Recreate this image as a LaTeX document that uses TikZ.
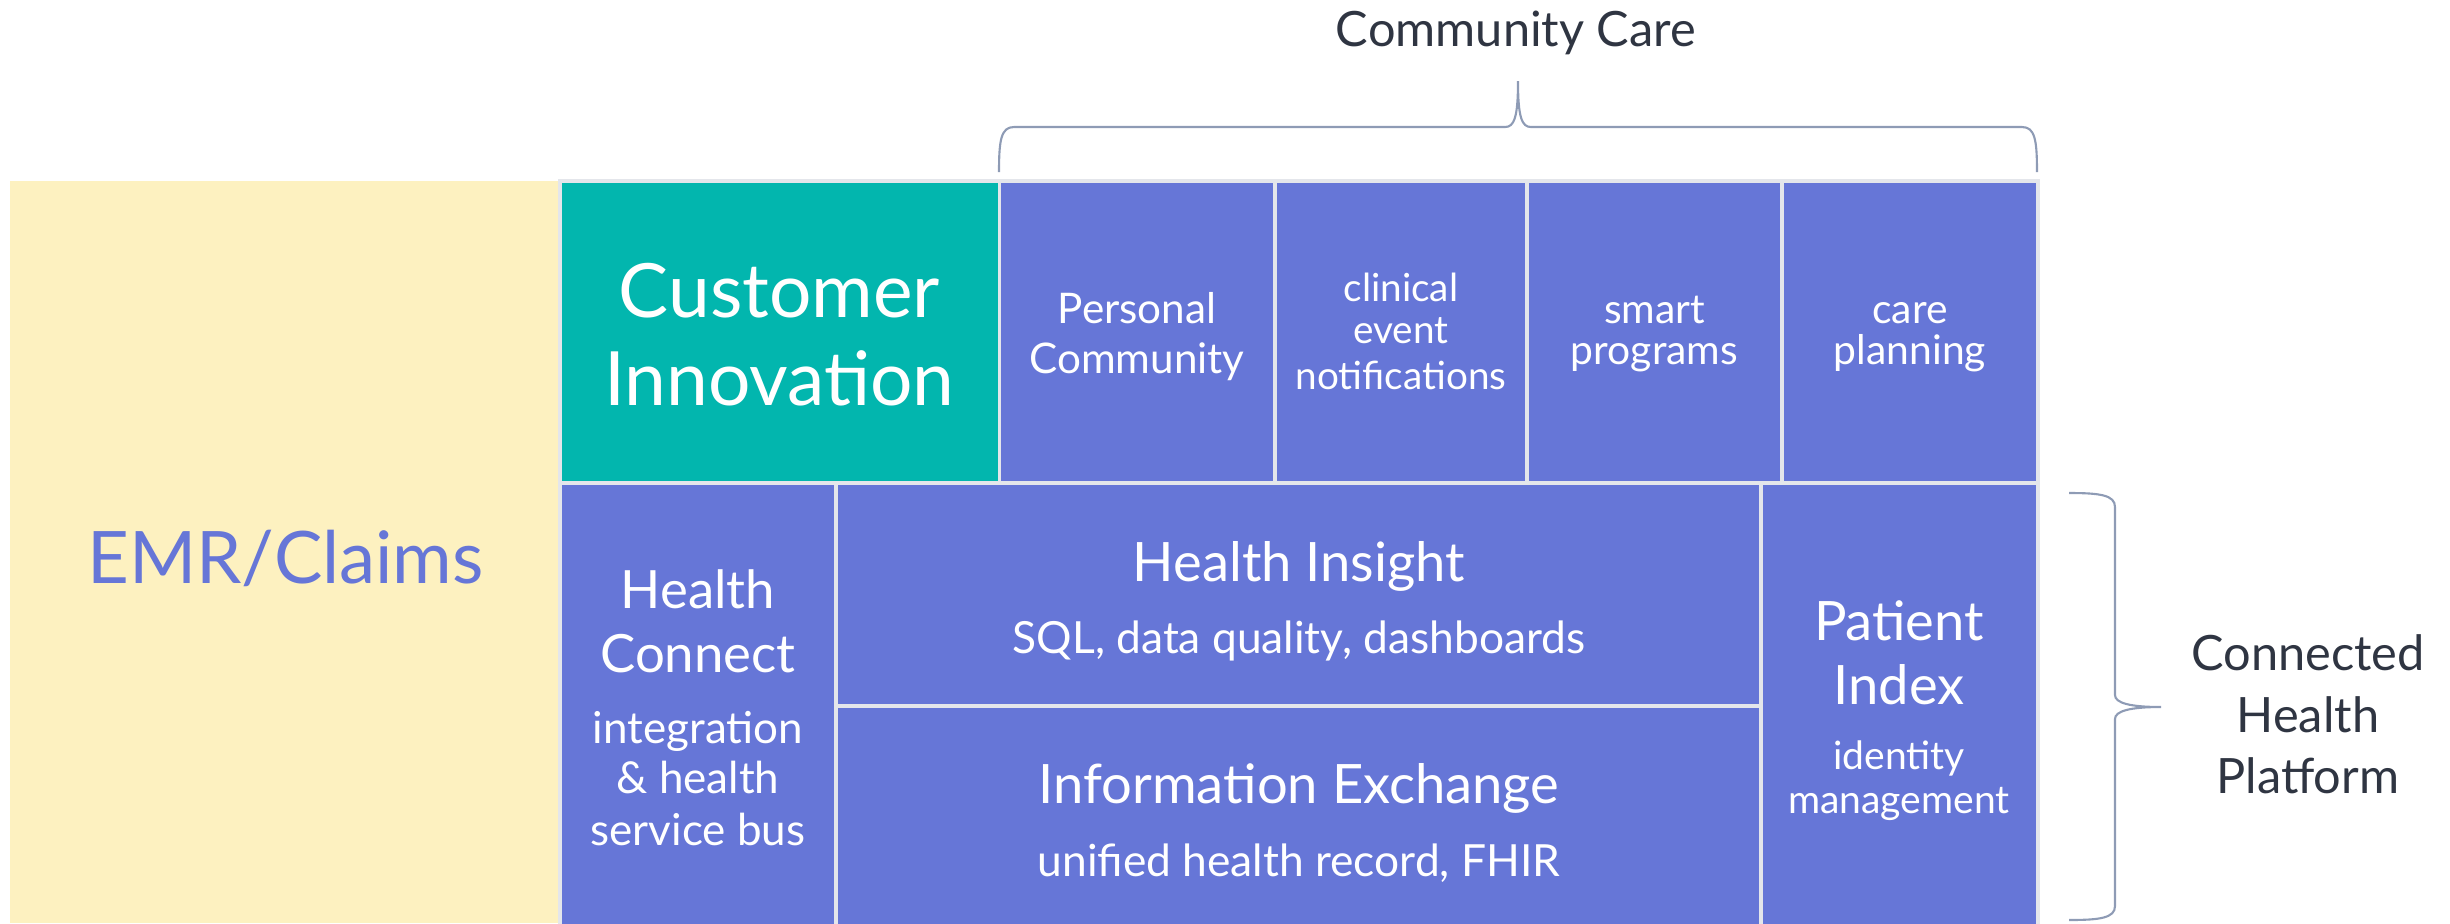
\documentclass[tikz,border=0pt]{standalone}
\usepackage{fontspec}
\setmainfont{Lato}
\definecolor{cpurple}{HTML}{6676D7}
\definecolor{cteal}{HTML}{02B6AE}
\definecolor{cyellow}{HTML}{FDF1C0}
\definecolor{cborder}{HTML}{E4E6EB}
\definecolor{cdark}{HTML}{2F3542}
\definecolor{cbrace}{HTML}{8E9BB5}
\newcommand\myfs[1]{\fontsize{#1pt}{#1pt}\selectfont}
\begin{document}
\begin{tikzpicture}[x=0.01cm,y=-0.01cm,
  cell/.style={draw=cborder, line width=1.1pt},
  lbl/.style={anchor=base, text=white, inner sep=0pt},
  big/.style={lbl, font=\myfs{21.3}},
  head/.style={lbl, font=\myfs{15.45}},
  sub/.style={lbl, font=\myfs{12.6}},
  small/.style={lbl, font=\myfs{12}},
  smaller/.style={lbl, font=\myfs{11.6}},
  tiny/.style={lbl, font=\myfs{11}},
  side/.style={anchor=base, text=cdark, inner sep=0pt, font=\myfs{13.85}},
  bracepath/.style={draw=cbrace, line width=0.6pt}]
\useasboundingbox (0,0) rectangle (2450,923);
% EMR / Claims column
\fill[cyellow] (10,181) rectangle (559,923);
% top row
\path[cell, fill=cteal]   (560,181) rectangle (999.5,483);
\path[cell, fill=cpurple] (999.5,181) rectangle (1275,483);
\path[cell, fill=cpurple] (1275,181) rectangle (1527,483);
\path[cell, fill=cpurple] (1527,181) rectangle (1782,483);
\path[cell, fill=cpurple] (1782,181) rectangle (2038,483);
% bottom row
\path[cell, fill=cpurple] (560,483) rectangle (836,930);
\path[cell, fill=cpurple] (836,483) rectangle (1761,706);
\path[cell, fill=cpurple] (836,706) rectangle (1761,930);
\path[cell, fill=cpurple] (1761,483) rectangle (2038,930);
% texts
\node[lbl, text=cpurple, font=\myfs{20.6}] (emr) at (285.5,583) {EMR/Claims};
\node[big] (ci1) at (779.5,317) {Customer};
\node[big] (ci2) at (779.5,405) {Innovation};
\node[small] (pc1) at (1137,323) {Personal};
\node[small] (pc2) at (1137,373) {Community};
\node[tiny] (ce1) at (1401,301) {clinical};
\node[tiny] (ce2) at (1401,343) {event};
\node[tiny] (ce3) at (1401,389) {notifications};
\node[smaller] (sp1) at (1654.5,323) {smart};
\node[smaller] (sp2) at (1654.5,364) {programs};
\node[smaller] (cp1) at (1910,323) {care};
\node[smaller] (cp2) at (1910,364) {planning};
\node[lbl, font=\myfs{15}] (hc1) at (698,608) {Health};
\node[lbl, font=\myfs{15}] (hc2) at (698,672) {Connect};
\node[lbl, font=\myfs{12.5}] (hc3) at (698,743) {integration};
\node[lbl, font=\myfs{12.5}] (hc4) at (698,793) {\& health};
\node[lbl, font=\myfs{12.5}] (hc5) at (698,845) {service bus};
\node[head] (hi1) at (1299,581) {Health Insight};
\node[sub] (hi2) at (1299,653) {SQL, data quality, dashboards};
\node[head] (ie1) at (1299,803) {Information Exchange};
\node[sub] (ie2) at (1299,876) {unified health record, FHIR};
\node[head] (pi1) at (1899,640) {Patient};
\node[head] (pi2) at (1899,704) {Index};
\node[lbl, font=\myfs{11.1}] (pi3) at (1899,769) {identity};
\node[lbl, font=\myfs{11.1}] (pi4) at (1899,813) {management};
% side labels
\node[side] (cc) at (1516,46) {Community Care};
\node[side] (ch1) at (2308,670) {Connected};
\node[side] (ch2) at (2308,732) {Health};
\node[side] (ch3) at (2308,793) {Platform};
% braces
\path[bracepath] (999,172) .. controls (999,140) and (1001,127) .. (1014,127)
  -- (1505,127) .. controls (1514,127) and (1518,118) .. (1518,81)
  .. controls (1518,118) and (1522,127) .. (1531,127)
  -- (2022,127) .. controls (2035,127) and (2037,140) .. (2037,172);
\path[bracepath] (2069,493) .. controls (2100,493) and (2115,495) .. (2115,507)
  -- (2115,695) .. controls (2115,703) and (2130,707) .. (2161,707)
  .. controls (2130,707) and (2115,711) .. (2115,719)
  -- (2115,906) .. controls (2115,918) and (2100,920) .. (2069,920);
\end{tikzpicture}
\end{document}
